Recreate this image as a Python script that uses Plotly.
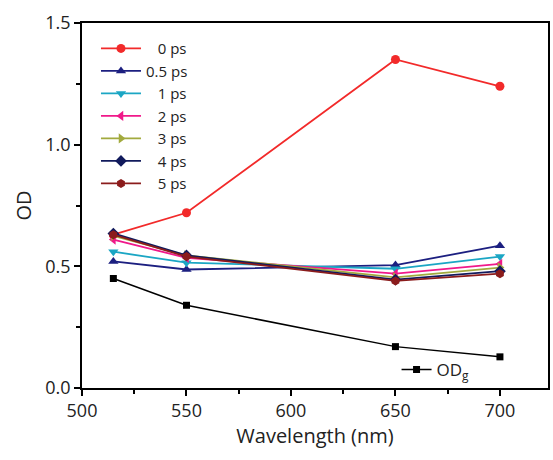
import plotly.graph_objects as go

wavelength = [515, 550, 650, 700]
od_0ps = [0.63, 0.72, 1.35, 1.24]
od_05ps = [0.52, 0.487, 0.505, 0.585]
od_1ps = [0.56, 0.515, 0.49, 0.54]
od_2ps = [0.61, 0.535, 0.47, 0.51]
od_3ps = [0.625, 0.545, 0.455, 0.495]
od_4ps = [0.635, 0.545, 0.445, 0.48]
od_5ps = [0.63, 0.54, 0.44, 0.47]
od_g = [0.45, 0.34, 0.17, 0.128]

pad = "\u00a0\u00a0\u00a0"
series = [
    (pad + "0 ps", od_0ps, "#f22a2a", "circle"),
    ("0.5 ps", od_05ps, "#1c1f80", "triangle-up"),
    (pad + "1 ps", od_1ps, "#1ba6c4", "triangle-down"),
    (pad + "2 ps", od_2ps, "#f0198a", "triangle-left"),
    (pad + "3 ps", od_3ps, "#a2aa3e", "triangle-right"),
    (pad + "4 ps", od_4ps, "#111a5c", "diamond"),
    (pad + "5 ps", od_5ps, "#8b1c1c", "hexagon"),
]

font_family = "Open Sans, Lato, sans-serif"

fig = go.Figure()
fig.add_trace(go.Scatter(x=wavelength, y=od_g, name="OD<sub>g</sub>", mode="lines+markers",
                         line=dict(color="black", width=1.5),
                         marker=dict(symbol="square", size=7, color="black"),
                         legend="legend2"))
for name, vals, color, sym in series:
    fig.add_trace(go.Scatter(x=wavelength, y=vals, name=name, mode="lines+markers",
                             line=dict(color=color, width=1.8),
                             marker=dict(symbol=sym, size=9, color=color),
                             legend="legend"))

axis_common = dict(showline=True, linecolor="black", linewidth=1.5, mirror=True,
                   ticks="outside", ticklen=6, tickwidth=1.5, tickcolor="black",
                   showgrid=False, zeroline=False,
                   tickfont=dict(size=18, color="#222", family=font_family))

fig.update_xaxes(range=[500, 723], tickvals=[500, 550, 600, 650, 700],
                 minor=dict(ticks="outside", ticklen=4, tickwidth=1.5, tickcolor="black",
                            tickvals=[525, 575, 625, 675]),
                 title=dict(text="Wavelength (nm)", font=dict(size=20, color="#222", family=font_family),
                            standoff=0),
                 **axis_common)
fig.update_yaxes(range=[0, 1.5], tickvals=[0, 0.5, 1.0, 1.5], tickformat=".1f",
                 minor=dict(ticks="outside", ticklen=4, tickwidth=1.5, tickcolor="black",
                            tickvals=[0.25, 0.75, 1.25]),
                 title=dict(text="OD", font=dict(size=20, color="#222", family=font_family),
                            standoff=8),
                 **axis_common)

fig.update_layout(
    width=553, height=460,
    margin=dict(l=82, r=3, t=23, b=72),
    paper_bgcolor="white", plot_bgcolor="white",
    font=dict(family=font_family, color="#222"),
    legend=dict(x=0.03, y=0.975, xanchor="left", yanchor="top",
                bgcolor="rgba(0,0,0,0)", font=dict(size=15, family=font_family),
                tracegroupgap=0, itemwidth=40),
    legend2=dict(x=0.675, y=0.0, xanchor="left", yanchor="bottom",
                 bgcolor="rgba(0,0,0,0)", font=dict(size=17, family=font_family)),
)

fig.write_html("out.html")
